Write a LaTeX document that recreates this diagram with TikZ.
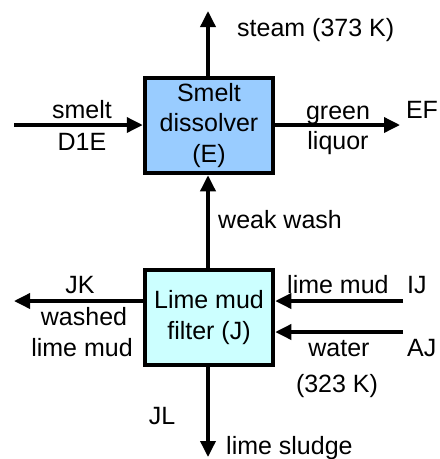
\documentclass[tikz,border=0pt]{standalone}
\usepackage{fontspec}
\setmainfont{Liberation Sans}
\usetikzlibrary{arrows.meta}
\definecolor{dissolverblue}{RGB}{153,204,255}
\definecolor{filtercyan}{RGB}{204,255,255}
\begin{document}
\begin{tikzpicture}[x=1pt,y=-1pt,
  font=\fontsize{25}{30.5}\selectfont,
  unit/.style={draw=black,line width=4.5pt,minimum width=128pt,minimum height=95pt,
    align=center,inner sep=0pt},
  flow/.style={line width=3.5pt,-{Triangle[length=16pt,width=15pt]}},
  lbl/.style={inner sep=0pt,anchor=base},
  lblw/.style={inner sep=0pt,anchor=base west}]
\useasboundingbox (0,0) rectangle (440,459);

% process units
\node[unit,fill=dissolverblue] (E) at (209,125.5) {Smelt\\dissolver\\(E)};
\node[unit,fill=filtercyan] (J) at (209,317.5) {Lime mud\\filter (J)};

% stream end points
\coordinate (steamtop) at (208,11);
\coordinate (smeltin) at (14,125);
\coordinate (efout) at (400,125);
\coordinate (jkout) at (14,301);
\coordinate (ijin) at (403,301);
\coordinate (ajin) at (403,332);
\coordinate (jlout) at (208,457);

% streams
\draw[flow] (E.north -| steamtop) -- (steamtop);
\draw[flow] (smeltin) -- (E.west |- smeltin);
\draw[flow] (E.east |- efout) -- (efout);
\draw[flow] (J.north -| steamtop) -- (E.south -| steamtop);
\draw[flow] (J.west |- jkout) -- (jkout);
\draw[flow] (ijin) -- (J.east |- ijin);
\draw[flow] (ajin) -- (J.east |- ajin);
\draw[flow] (J.south -| jlout) -- (jlout);

% stream labels
\node[lblw] (tsteam) at (237,36) {steam (373 K)};
\node[lbl] (tsmelt) at (82,118) {smelt};
\node[lbl] (tde) at (82,150) {D1E};
\node[lbl] (tgreen) at (338,119) {green};
\node[lbl] (tliquor) at (338,149) {liquor};
\node[lbl] (tef) at (422,118) {EF};
\node[lblw] (tweak) at (218,228) {weak wash};
\node[lbl] (tjk) at (80,293) {JK};
\node[lbl] (twashed) at (84,325) {washed};
\node[lbl] (tlimemud) at (82,356) {lime mud};
\node[lblw] (tlimein) at (287,293) {lime mud};
\node[lblw] (tij) at (407,293) {IJ};
\node[lbl] (twater) at (339,356) {water};
\node[lblw] (taj) at (407,356) {AJ};
\node[lbl] (ttemp) at (337,392) {(323 K)};
\node[lbl] (tjl) at (162,424) {JL};
\node[lblw] (tsludge) at (226,454) {lime sludge};
\end{tikzpicture}
\end{document}
